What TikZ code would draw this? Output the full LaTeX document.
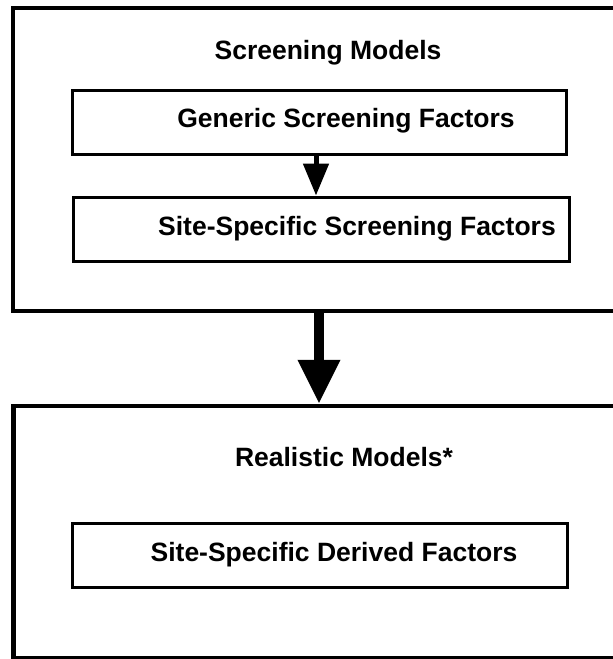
\documentclass[tikz,border=0pt]{standalone}
\usepackage{fontspec}
\setmainfont{Liberation Sans}
\usetikzlibrary{arrows.meta}
\begin{document}
\begin{tikzpicture}[x=1pt,y=-1pt,
  outerbox/.style={draw=black, line width=4.5pt, minimum width=607pt, inner sep=0pt},
  innerbox/.style={draw=black, line width=3pt, inner sep=0pt, minimum height=64pt},
  lbl/.style={font=\fontsize{26.5}{30}\selectfont\bfseries, inner sep=0pt, anchor=center},
  smallarrow/.style={line width=5pt, -{Triangle[length=32pt,width=25pt]}},
  bigarrow/.style={line width=10pt, -{Triangle[length=44pt,width=40pt]}}
]
\clip (0,0) rectangle (613,659);
\fill[white] (0,0) rectangle (613,659);
% outer containers
\node[outerbox, minimum height=303pt] (outerA) at (316.5,159.5) {};
\node[outerbox, minimum height=252pt] (outerB) at (317,532) {};
% titles
\node[lbl] (titleA) at (328,53) {Screening Models};
\node[lbl] (titleB) at (344,457) {Realistic Models*};
% inner boxes
\node[innerbox, minimum width=494pt] (boxA) at (319,122) {};
\node[innerbox, minimum width=496pt] (boxB) at (321,229) {};
\node[innerbox, minimum width=495pt] (boxC) at (319.5,555) {};
\node[lbl] (txtA) at (346,121) {Generic Screening Factors};
\node[lbl] (txtB) at (357,229) {Site-Specific Screening Factors};
\node[lbl] (txtC) at (334,555) {Site-Specific Derived Factors};
% arrows
\draw[smallarrow] (boxA.south -| 316,0) -- (boxB.north -| 316,0);
\draw[bigarrow] (outerA.south -| 319,0) -- (outerB.north -| 319,0);
\end{tikzpicture}
\end{document}
